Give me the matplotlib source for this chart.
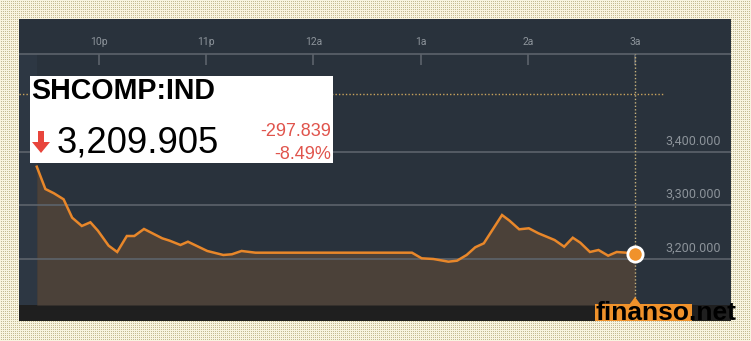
import matplotlib
matplotlib.use('Agg')
import matplotlib.pyplot as plt
import numpy as np
from matplotlib.patches import Rectangle, Polygon

# intraday series (hours after 9pm) and index level
horas = [0.42, 0.50, 0.58, 0.67, 0.75, 0.84, 0.92, 0.99, 1.09, 1.17,
         1.26, 1.33, 1.42, 1.59, 1.66, 1.76, 1.83, 2.01, 2.16, 2.24,
         2.33, 2.46, 3.92, 4.01, 4.12, 4.26, 4.34, 4.43, 4.51, 4.59,
         4.76, 4.83, 4.92, 5.01, 5.10, 5.25, 5.34, 5.42, 5.49, 5.58,
         5.66, 5.75, 5.83, 5.92, 6.00]
valores = [3372.5, 3330.8, 3322.8, 3311.6, 3277.2, 3261.7, 3268.6, 3252.9, 3224.9, 3213.1,
           3243.0, 3243.0, 3256.1, 3238.7, 3234.2, 3226.2, 3232.3, 3215.0, 3207.5, 3208.8,
           3215.0, 3211.8, 3211.8, 3201.3, 3200.0, 3195.0, 3196.8, 3207.5, 3221.9, 3229.3,
           3282.2, 3271.6, 3255.5, 3257.4, 3248.0, 3235.5, 3223.0, 3239.8, 3230.5, 3213.1,
           3216.8, 3206.2, 3213.1, 3211.8, 3209.905]

fech_anterior = 3507.744
ticks_x = [1, 2, 3, 4, 5, 6]
rotulos_x = ['10p', '11p', '12a', '1a', '2a', '3a']
ticks_y = [3200, 3300, 3400]
rotulos_y = ['3,200.000', '3,300.000', '3,400.000']

W, H = 751, 341
fig = plt.figure(figsize=(W / 100, H / 100), dpi=100)

def px(x, y):
    return (x / W, 1 - y / H)

# fundo pontilhado bege
bg = fig.add_axes([0, 0, 1, 1])
img = np.ones((H, W, 3)) * np.array([248, 244, 224]) / 255
yy, xx = np.mgrid[0:H, 0:W]
img[(yy % 2 == 1) & (xx % 2 == 1)] = np.array([196, 186, 146]) / 255
bg.imshow(img, interpolation='nearest', aspect='auto')
bg.axis('off')

# painel escuro
ax = fig.add_axes([19 / W, (H - 321) / H, (731 - 19) / W, (321 - 19) / H])
ax.set_facecolor('#29323c')
ax.set_xlim(0.254, 6.896)
ax.set_ylim(3084.1, 3648.6)
for s in ax.spines.values():
    s.set_visible(False)
ax.set_xticks([])
ax.set_yticks([])

base = 3114.0
ax.axhspan(3084.1, base, color='#1f1f1f', zorder=1, lw=0)
ax.axvspan(0.254, horas[0], ymin=(base - 3084.1) / 564.5, ymax=(3583.2 - 3084.1) / 564.5,
           color='#2d3743', zorder=0.5, lw=0)
ax.fill_between(horas, valores, base, color='#4b4139', zorder=1, lw=0)

for v in ticks_y:
    ax.axhline(v, color='#5c636b', lw=1.2, zorder=2)
for v, r in zip(ticks_y, rotulos_y):
    ax.text(6.802, v + 20.6, r, ha='right', va='center', color='#8c939a',
            fontsize=9, family='Roboto', zorder=5)

# eixo de tempo no topo
ax.axhline(3583.2, color='#5c636b', lw=1.2, zorder=2)
ax.vlines(ticks_x, 3562.6, 3583.2, color='#5c636b', lw=1.2, zorder=2)
for t, r in zip(ticks_x, rotulos_x):
    ax.text(t, 3605.6, r, ha='center', va='center', color='#8d949b',
            fontsize=7.5, family='Roboto')

ax.hlines(fech_anterior, 0.254, 6.261, colors='#c9a35c', linestyles=(0, (1, 1.5)), lw=1, zorder=3)
ax.vlines(6.0, 3122, 3583.2, colors='#c9b27c', linestyles=(0, (1, 1.5)), lw=1, zorder=3)

ax.plot(horas, valores, color='#e8872a', lw=1.8, zorder=4, solid_joinstyle='miter')
ax.plot(horas[-1], valores[-1], 'o', ms=11, mfc='#f0922b', mec='white', mew=2, zorder=6)

# caixa branca com cotação
fig.add_artist(Rectangle(px(30, 163), 303 / W, 87 / H, transform=fig.transFigure,
                         facecolor='white', edgecolor='none', zorder=10))
fig.text(*px(31, 99), 'SHCOMP:IND', fontsize=20.6, fontweight='bold', family='Liberation Sans',
         color='black', va='baseline', zorder=11)
fig.text(*px(57, 152), '3,209.905', fontsize=26.2, family='Liberation Sans',
         color='black', va='baseline', zorder=11)
fig.text(*px(331, 131), '-297.839', fontsize=13, family='Liberation Sans',
         color='#e0544c', ha='right', va='center', zorder=11)
fig.text(*px(331, 154), '-8.49%', fontsize=13, family='Liberation Sans',
         color='#e0544c', ha='right', va='center', zorder=11)
seta = [(38, 131), (44, 131), (44, 142), (50, 142), (41, 153), (32, 142), (38, 142)]
fig.add_artist(Polygon([px(*p) for p in seta], closed=True, transform=fig.transFigure,
                       facecolor='#e8453c', edgecolor='none', zorder=11))

# etiqueta laranja no rodapé + marca d'água
fig.add_artist(Rectangle(px(595, 321), 97 / W, 17 / H, transform=fig.transFigure,
                         facecolor='#f0922b', edgecolor='none', zorder=10))
tri = [(629, 305), (641, 305), (635, 297)]
fig.add_artist(Polygon([px(*p) for p in tri], closed=True, transform=fig.transFigure,
                       facecolor='#f0922b', edgecolor='none', zorder=10))
fig.text(*px(595, 320), 'finanso.net', fontsize=19, fontweight='bold', family='Liberation Sans',
         color='black', va='baseline', zorder=12)

fig.savefig('out.png', dpi=100)
